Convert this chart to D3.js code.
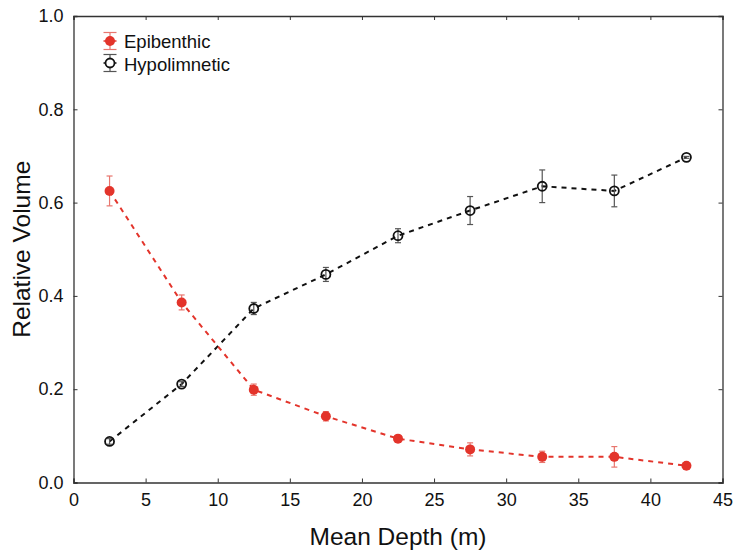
<!DOCTYPE html>
<html>
<head>
<meta charset="utf-8">
<script src="https://cdn.jsdelivr.net/npm/d3@7"></script>
<style>
  html, body { margin: 0; padding: 0; background: #fff; }
  svg { display: block; font-family: "Liberation Sans", Arial, sans-serif; }
</style>
</head>
<body>
<svg id="chart" width="733" height="552"></svg>
<script>
// Mean depth bins (m)
const depths = [2.5, 7.5, 12.5, 17.5, 22.5, 27.5, 32.5, 37.5, 42.5];

// Relative volume of the epibenthic layer and its error
const epiValues = [0.625, 0.386, 0.199, 0.142, 0.094, 0.071, 0.055, 0.055, 0.036];
const epiErrors = [0.032, 0.016, 0.012, 0.010, 0.004, 0.014, 0.012, 0.022, 0.002];

// Relative volume of the hypolimnetic layer and its error
const hypoValues = [0.088, 0.211, 0.373, 0.446, 0.529, 0.583, 0.635, 0.625, 0.697];
const hypoErrors = [0.006, 0.005, 0.013, 0.015, 0.015, 0.030, 0.035, 0.034, 0.002];

const xTicks = [0, 5, 10, 15, 20, 25, 30, 35, 40, 45];
const yTicks = [0.0, 0.2, 0.4, 0.6, 0.8, 1.0];

const seriesNames = ["Epibenthic", "Hypolimnetic"];

(function () {
const svg = d3.select("#chart");
const mLeft = 73.5, mRight = 722.5, mTop = 16, mBottom = 482.5;

const x = d3.scaleLinear().domain([0, 45]).range([mLeft, mRight]);
const y = d3.scaleLinear().domain([0, 1]).range([mBottom, mTop]);

const frameColor = "#333";
const red = "#e3342b";
const redErr = "#e8766e";
const black = "#111";
const blackErr = "#555";
const font = "'Liberation Sans', Arial, sans-serif";

// Axes with inward ticks on all four sides
const tickLen = 4;
const gx = svg.append("g").attr("transform", `translate(0,${mBottom})`)
  .call(d3.axisBottom(x).tickValues(xTicks).tickSize(-tickLen).tickPadding(11).tickFormat(d3.format("d")));
const gy = svg.append("g").attr("transform", `translate(${mLeft},0)`)
  .call(d3.axisLeft(y).tickValues(yTicks).tickSize(-tickLen).tickPadding(10).tickFormat(d3.format(".1f")));
const gt = svg.append("g").attr("transform", `translate(0,${mTop})`)
  .call(d3.axisTop(x).tickValues(xTicks).tickSize(-tickLen).tickFormat(""));
const gr = svg.append("g").attr("transform", `translate(${mRight},0)`)
  .call(d3.axisRight(y).tickValues(yTicks).tickSize(-tickLen).tickFormat(""));

[gx, gy, gt, gr].forEach(g => {
  g.select(".domain").attr("stroke", frameColor).attr("stroke-width", 1.3);
  g.selectAll(".tick line").attr("stroke", frameColor).attr("stroke-width", 1);
  g.selectAll(".tick text").attr("fill", "#111").style("font-size", "18px")
    .style("font-family", font);
});

// Axis titles
svg.append("text")
  .attr("x", (mLeft + mRight) / 2).attr("y", 545)
  .attr("text-anchor", "middle").attr("fill", "#111")
  .style("font-size", "24.5px").text("Mean Depth (m)");
svg.append("text")
  .attr("transform", `translate(30,${(mTop + mBottom) / 2}) rotate(-90)`)
  .attr("text-anchor", "middle").attr("fill", "#111")
  .style("font-size", "24.5px").text("Relative Volume");

const capW = 3;
function drawSeries(vals, errs, lineColor, errColor, filled) {
  const pts = depths.map((d, i) => ({ d, v: vals[i], e: errs[i] }));
  const line = d3.line().x(p => x(p.d)).y(p => y(p.v));
  svg.append("path").datum(pts).attr("d", line)
    .attr("fill", "none").attr("stroke", lineColor)
    .attr("stroke-width", 2).attr("stroke-dasharray", "5,5");
  const eb = svg.append("g").selectAll("g").data(pts).join("g");
  eb.append("line").attr("x1", p => x(p.d)).attr("x2", p => x(p.d))
    .attr("y1", p => y(p.v + p.e)).attr("y2", p => y(p.v - p.e))
    .attr("stroke", errColor).attr("stroke-width", 1.2);
  eb.append("line").attr("x1", p => x(p.d) - capW).attr("x2", p => x(p.d) + capW)
    .attr("y1", p => y(p.v + p.e)).attr("y2", p => y(p.v + p.e))
    .attr("stroke", errColor).attr("stroke-width", 1.2);
  eb.append("line").attr("x1", p => x(p.d) - capW).attr("x2", p => x(p.d) + capW)
    .attr("y1", p => y(p.v - p.e)).attr("y2", p => y(p.v - p.e))
    .attr("stroke", errColor).attr("stroke-width", 1.2);
  svg.append("g").selectAll("circle").data(pts).join("circle")
    .attr("cx", p => x(p.d)).attr("cy", p => y(p.v))
    .attr("r", filled ? 5 : 4.5)
    .attr("fill", filled ? lineColor : "none")
    .attr("stroke", lineColor).attr("stroke-width", filled ? 0 : 1.8);
}

drawSeries(hypoValues, hypoErrors, black, blackErr, false);
drawSeries(epiValues, epiErrors, red, redErr, true);

// Legend
const legend = [
  { name: seriesNames[0], color: red, err: redErr, filled: true, cy: 41, ty: 47.5 },
  { name: seriesNames[1], color: black, err: blackErr, filled: false, cy: 63, ty: 70.5 }
];
const lx = 110;
legend.forEach(l => {
  const g = svg.append("g");
  g.append("line").attr("x1", lx).attr("x2", lx).attr("y1", l.cy - 8.5).attr("y2", l.cy + 8.5)
    .attr("stroke", l.err).attr("stroke-width", 1.2);
  [l.cy - 8.5, l.cy + 8.5].forEach(yy => g.append("line")
    .attr("x1", lx - 6.5).attr("x2", lx + 6.5).attr("y1", yy).attr("y2", yy)
    .attr("stroke", l.err).attr("stroke-width", 1.2));
  g.append("line").attr("x1", lx - 6.5).attr("x2", lx + 6.5).attr("y1", l.cy).attr("y2", l.cy)
    .attr("stroke", l.color).attr("stroke-width", 1.5);
  g.append("circle").attr("cx", lx).attr("cy", l.cy).attr("r", l.filled ? 5 : 4.5)
    .attr("fill", l.filled ? l.color : "#fff").attr("stroke", l.color)
    .attr("stroke-width", l.filled ? 0 : 1.8);
  g.append("text").attr("x", 124).attr("y", l.ty).attr("fill", "#111")
    .style("font-size", "18.5px").text(l.name);
});
})();
</script>
</body>
</html>
